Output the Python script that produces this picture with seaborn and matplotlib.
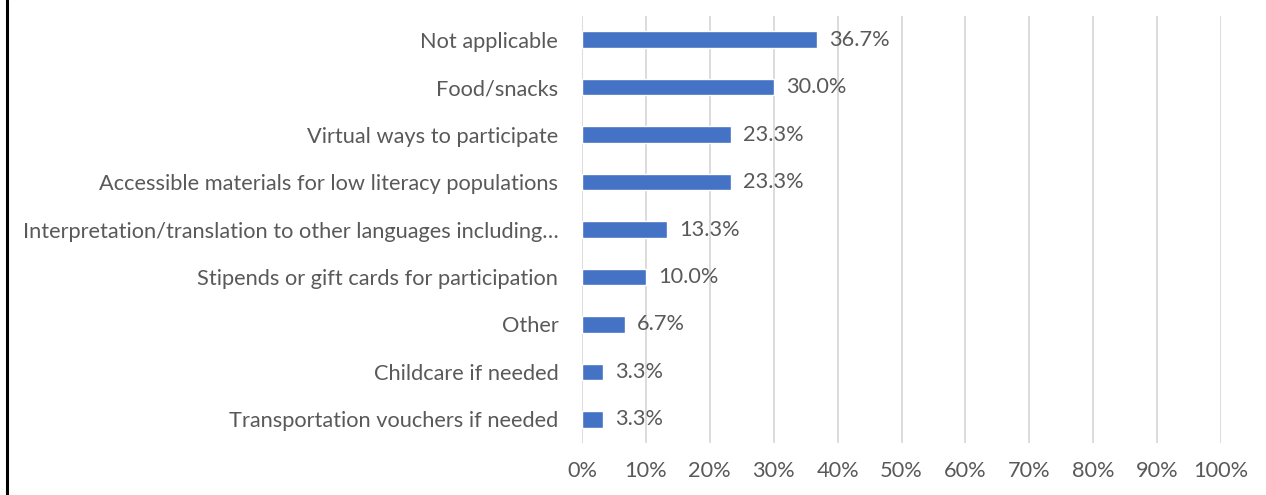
import matplotlib
matplotlib.use("Agg")
import matplotlib.pyplot as plt
import seaborn as sns
import pandas as pd
from matplotlib.lines import Line2D

categories = [
    "Not applicable",
    "Food/snacks",
    "Virtual ways to participate",
    "Accessible materials for low literacy populations",
    "Interpretation/translation to other languages including\u2026",
    "Stipends or gift cards for participation",
    "Other",
    "Childcare if needed",
    "Transportation vouchers if needed",
]
values = [36.7, 30.0, 23.3, 23.3, 13.3, 10.0, 6.7, 3.3, 3.3]
x_ticks = [0, 10, 20, 30, 40, 50, 60, 70, 80, 90, 100]

df = pd.DataFrame({"category": categories, "value": values})

sns.set_theme(style="white")
plt.rcParams["font.family"] = ["Lato", "DejaVu Sans"]

text_color = "#595959"
bar_color = "#4472C4"
grid_color = "#D9D9D9"
fs = 15.7

fig = plt.figure(figsize=(12.66, 4.95), dpi=100)
ax = fig.add_axes([0.4597, 0.105, 0.5048, 0.8627])

sns.barplot(data=df, x="value", y="category", color=bar_color, saturation=1,
            width=0.35, ax=ax, zorder=3)

ax.set_xlim(0, 100)
ax.set_xticks(x_ticks)
ax.set_xticklabels([f"{t}%" for t in x_ticks])
ax.xaxis.grid(True, color=grid_color, linewidth=1.3, zorder=0)
ax.yaxis.grid(False)
for s in ax.spines.values():
    s.set_visible(False)

ax.set_xlabel("")
ax.set_ylabel("")
ax.tick_params(axis="x", length=0, pad=13, labelsize=fs, labelcolor=text_color)
ax.tick_params(axis="y", length=0, pad=17, labelsize=fs, labelcolor=text_color)

for i, v in enumerate(values):
    ax.text(v + 1.9, i, f"{v:.1f}%", va="center", ha="left",
            fontsize=fs, color=text_color, zorder=4)

# thin frame line on the left edge of the figure
fig.add_artist(Line2D([0.0055, 0.0055], [0, 1], transform=fig.transFigure,
                      color="black", linewidth=2.2))

fig.savefig("out.png", dpi=100)
